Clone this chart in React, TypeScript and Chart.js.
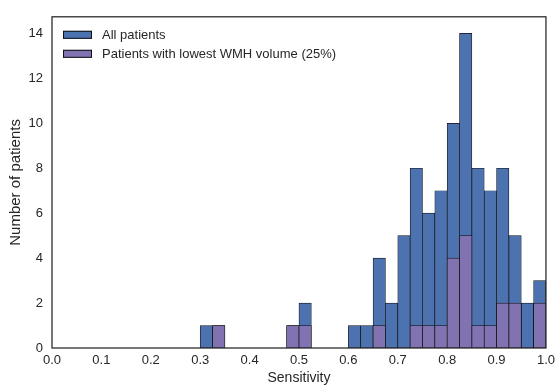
import React, { useEffect, useRef } from "react";
import { Chart, registerables } from "chart.js";

Chart.register(...registerables);

// histogram bins (width 0.025), bin start values
const binStarts = [0.3, 0.325, 0.475, 0.5, 0.6, 0.625, 0.65, 0.675, 0.7, 0.725, 0.75, 0.775, 0.8, 0.825, 0.85, 0.875, 0.9, 0.925, 0.95, 0.975];
const allPatients = [1, 1, 1, 2, 1, 1, 4, 2, 5, 8, 6, 7, 10, 14, 8, 7, 8, 5, 2, 3];
const lowestWmh = [0, 1, 1, 1, 0, 0, 1, 0, 0, 1, 1, 1, 4, 5, 1, 1, 2, 2, 0, 2];
const binWidth = 0.025;
const seriesLabels = ["All patients", "Patients with lowest WMH volume (25%)"];
const xTicks = [0, 0.1, 0.2, 0.3, 0.4, 0.5, 0.6, 0.7, 0.8, 0.9, 1.0];
const yTicks = [0, 2, 4, 6, 8, 10, 12, 14];

const BLUE = "#4C72B0";
const PURPLE = "#8172B2";
const TEXT = "#262626";
const FONT = "'Liberation Sans', Arial, sans-serif";

const framePlugin = {
  id: "frame",
  afterDatasetsDraw(chart: any) {
    const { ctx, chartArea: a } = chart;
    ctx.save();
    ctx.strokeStyle = "#262626";
    ctx.lineWidth = 1.25;
    ctx.strokeRect(a.left, a.top, a.right - a.left, a.bottom - a.top);
    ctx.restore();
  },
};

const legendPlugin = {
  id: "insideLegend",
  afterDraw(chart: any) {
    const { ctx, chartArea: a } = chart;
    ctx.save();
    ctx.font = `13px ${FONT}`;
    ctx.textBaseline = "middle";
    chart.data.datasets.forEach((ds: any, i: number) => {
      const cy = a.top + 18 + i * 19;
      const bx = a.left + 11;
      ctx.fillStyle = ds.backgroundColor;
      ctx.fillRect(bx, cy - 4, 29, 8);
      ctx.strokeStyle = "#111111";
      ctx.lineWidth = 1;
      ctx.strokeRect(bx + 0.5, cy - 4 + 0.5, 28, 7);
      ctx.fillStyle = TEXT;
      ctx.fillText(ds.label, a.left + 50, cy + 0.5);
    });
    ctx.restore();
  },
};

export default function App() {
  const ref = useRef<HTMLCanvasElement | null>(null);
  useEffect(() => {
    document.body.style.margin = "0";
    if (!ref.current) return;
    const mk = (vals: number[]) =>
      binStarts.map((s, i) => ({ x: s + binWidth / 2, y: vals[i] > 0 ? vals[i] : null }));
    const chart = new Chart(ref.current, {
      type: "bar",
      data: {
        datasets: [
          {
            label: seriesLabels[0],
            data: mk(allPatients) as any,
            backgroundColor: BLUE,
            borderColor: "#111111",
            borderWidth: 0.7,
            borderSkipped: false,
            grouped: false,
            barPercentage: 1,
            categoryPercentage: 1,
            order: 2,
          },
          {
            label: seriesLabels[1],
            data: mk(lowestWmh) as any,
            backgroundColor: PURPLE,
            borderColor: "#111111",
            borderWidth: 0.7,
            borderSkipped: false,
            grouped: false,
            barPercentage: 1,
            categoryPercentage: 1,
            order: 1,
          },
        ],
      },
      options: {
        responsive: false,
        animation: false,
        layout: { padding: { left: 0, top: 8, right: 9, bottom: 0 } },
        plugins: { legend: { display: false }, tooltip: { enabled: false } },
        scales: {
          x: {
            type: "linear",
            min: 0,
            max: 1,
            offset: false,
            afterBuildTicks: (s: any) => {
              s.ticks = xTicks.map((v) => ({ value: v }));
            },
            ticks: {
              color: TEXT,
              font: { size: 13, family: FONT },
              padding: 5,
              callback: (v: any) => Number(v).toFixed(1),
              maxRotation: 0,
              autoSkip: false,
            },
            grid: { display: false, drawTicks: false, offset: false },
            border: { display: false },
            title: {
              display: true,
              text: "Sensitivity",
              color: TEXT,
              font: { size: 14, family: FONT },
              padding: { top: 0, bottom: 5 },
            },
            afterFit: (s: any) => {
              s.height = 44;
            },
          },
          y: {
            type: "linear",
            min: 0,
            max: 14.74,
            afterBuildTicks: (s: any) => {
              s.ticks = yTicks.map((v) => ({ value: v }));
            },
            ticks: {
              color: TEXT,
              font: { size: 13, family: FONT },
              padding: 9,
              autoSkip: false,
            },
            grid: { display: false, drawTicks: false },
            border: { display: false },
            title: {
              display: true,
              text: "Number of patients",
              color: TEXT,
              font: { size: 15, family: FONT },
              padding: { top: 7, bottom: 0 },
            },
            afterFit: (s: any) => {
              s.width = 52;
            },
          },
        },
      },
      plugins: [framePlugin, legendPlugin],
    });
    return () => chart.destroy();
  }, []);
  return (
    <div style={{ position: "absolute", left: 0, top: 0, width: 560, height: 392 }}>
      <canvas ref={ref} width={560} height={392} />
    </div>
  );
}
